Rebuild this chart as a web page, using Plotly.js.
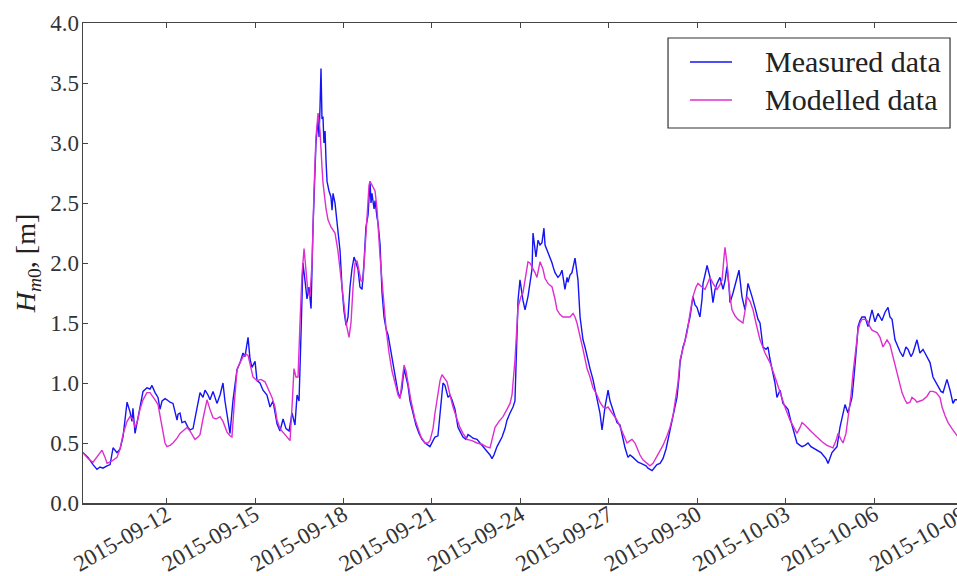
<!DOCTYPE html>
<html>
<head>
<meta charset="utf-8">
<script src="https://cdn.plot.ly/plotly-3.0.1.min.js"></script>
<style>
  html, body { margin: 0; padding: 0; overflow: hidden; background: #fff; }
  #chart { width: 982px; height: 576px; }
</style>
</head>
<body>
<div id="chart"></div>
<script>
// Significant wave height Hm0, measured vs. modelled, 2015-09-09 .. 2015-10-09.
// Times are hours after 2015-09-09 00:00 UTC.
const seriesNames = ["Measured data", "Modelled data"];
const seriesColors = ['#1414f5', '#dd2fd0'];

const measuredHours = [
  3.9, 8.0, 12.1, 15.3, 17.8, 20.2, 23.5, 26.0, 28.4, 31.6, 34.1, 36.5, 39.8, 42.2, 43.8, 44.6,
  46.3, 47.9, 50.3, 52.8, 56.0, 58.5, 60.1, 62.6, 65.0, 66.6, 68.3, 70.7, 72.3, 74.8, 77.2, 78.8,
  80.5, 81.3, 82.9, 84.5, 87.0, 89.4, 91.0, 93.5, 95.1, 96.7, 99.2, 101.6, 103.3, 105.7, 107.3, 109.8,
  111.4, 113.0, 115.5, 117.9, 119.5, 121.2, 123.6, 126.1, 129.3, 131.8, 134.2, 135.8, 138.3, 139.9,
  141.5, 144.0, 145.6, 148.0, 150.5, 153.7, 156.2, 158.6, 161.9, 164.3, 166.8, 169.2, 171.7, 174.1,
  176.5, 178.2, 179.8, 181.4, 183.0, 184.7, 186.3, 187.9, 189.6, 191.2, 193.6, 195.3, 196.1, 196.9,
  197.7, 198.5, 199.3, 200.1, 201.0, 201.8, 202.6, 204.2, 205.8, 206.7, 207.5, 209.1, 210.7, 211.5,
  213.2, 214.8, 216.4, 218.1, 219.7, 221.3, 222.9, 224.6, 226.2, 227.8, 229.4, 231.1, 232.7, 234.3,
  236.0, 236.8, 237.6, 238.4, 239.2, 240.9, 241.7, 243.3, 244.2, 245.8, 247.4, 249.0, 250.7, 252.3,
  253.9, 256.3, 258.8, 260.4, 262.0, 263.6, 265.3, 266.9, 268.5, 270.2, 272.6, 275.0, 277.5, 279.9,
  282.4, 284.8, 286.4, 288.9, 290.5, 292.9, 294.6, 297.0, 298.6, 301.1, 302.7, 304.3, 306.8, 309.2,
  311.7, 313.3, 315.7, 317.4, 319.0, 321.4, 324.7, 327.1, 329.6, 332.0, 333.7, 335.3, 336.9, 338.5,
  341.0, 343.4, 345.1, 347.5, 349.1, 351.6, 354.0, 355.6, 356.5, 358.1, 359.7, 361.3, 362.1, 363.8,
  365.4, 366.2, 367.8, 369.5, 370.3, 372.7, 374.4, 376.0, 377.6, 379.2, 380.1, 381.7, 384.1, 385.8,
  386.6, 388.2, 390.6, 392.3, 393.9, 395.5, 396.3, 398.0, 398.8, 400.4, 402.0, 404.5, 406.9, 408.6,
  411.0, 412.6, 414.3, 416.7, 419.1, 420.8, 423.2, 424.8, 426.5, 428.9, 431.4, 433.0, 434.6, 437.1,
  438.7, 441.1, 443.6, 445.2, 447.6, 449.3, 451.7, 454.1, 455.8, 458.2, 459.8, 462.3, 463.9, 465.5,
  467.2, 469.6, 471.2, 473.7, 476.1, 478.6, 480.2, 482.6, 484.3, 485.9, 487.5, 489.2, 490.0, 492.4,
  494.0, 495.7, 498.1, 500.5, 502.2, 503.8, 506.2, 507.9, 508.7, 510.3, 512.0, 514.4, 516.0, 516.8,
  518.5, 520.1, 522.5, 525.0, 526.6, 528.2, 529.9, 530.7, 533.1, 534.7, 536.4, 538.0, 540.4, 542.9,
  545.3, 547.0, 548.6, 551.0, 553.5, 555.1, 557.5, 560.0, 561.6, 563.2, 564.9, 567.3, 568.9, 571.4,
  573.8, 576.3, 577.9, 580.3, 582.0, 585.2, 587.7, 589.3, 591.7, 594.2, 596.6, 598.2, 600.7, 602.3,
  604.8, 606.4, 608.8, 610.5, 612.1, 613.7, 616.1, 617.8, 620.2, 622.7, 624.3, 626.7, 628.4, 630.0,
  631.6, 632.4, 634.1, 634.9, 636.5, 638.1, 640.6, 643.0, 644.6, 646.3, 648.7, 651.2, 652.8, 654.4,
  656.9, 659.3, 660.9, 662.6, 665.0, 667.4, 669.1, 671.5, 673.9, 675.6, 678.0, 679.6, 681.3, 682.9,
  685.3, 687.8, 689.4, 691.1, 693.5, 695.9, 698.4, 700.0, 702.4, 704.1, 707.3, 709.8, 712.2, 713.8,
  716.3
];
const measuredHm0 = [
  0.42, 0.38, 0.32, 0.28, 0.30, 0.29, 0.31, 0.32, 0.46, 0.42, 0.45, 0.55, 0.84, 0.76, 0.68, 0.79,
  0.58, 0.66, 0.78, 0.93, 0.96, 0.95, 0.98, 0.92, 0.88, 0.78, 0.85, 0.87, 0.86, 0.84, 0.83, 0.75,
  0.69, 0.74, 0.75, 0.67, 0.68, 0.63, 0.61, 0.62, 0.70, 0.80, 0.92, 0.88, 0.94, 0.90, 0.86, 0.93,
  0.87, 0.83, 0.90, 1.00, 0.85, 0.72, 0.58, 0.86, 1.11, 1.17, 1.25, 1.22, 1.38, 1.20,
  1.13, 1.18, 1.02, 1.00, 0.94, 0.90, 0.80, 0.85, 0.66, 0.60, 0.70, 0.62, 0.60, 0.75,
  0.65, 0.90, 0.85, 1.40, 2.00, 1.85, 1.70, 1.80, 1.62, 2.30, 3.00, 3.20, 3.05, 3.30,
  3.62, 3.20, 3.22, 3.00, 3.10, 2.85, 2.68, 2.60, 2.55, 2.44, 2.58, 2.50, 2.35, 2.27,
  2.10, 1.80, 1.60, 1.48, 1.55, 1.80, 1.95, 2.05, 2.00, 1.95, 1.80, 1.78, 2.00, 2.30,
  2.40, 2.60, 2.68, 2.50, 2.58, 2.45, 2.52, 2.38, 2.33, 2.15, 1.75, 1.55, 1.45, 1.40,
  1.30, 1.15, 1.00, 0.92, 0.88, 0.95, 1.12, 1.05, 0.98, 0.85, 0.75, 0.65, 0.58, 0.53,
  0.50, 0.48, 0.47, 0.52, 0.55, 0.56, 0.75, 1.00, 0.98, 0.88, 0.90, 0.86, 0.78, 0.63,
  0.58, 0.55, 0.53, 0.57, 0.56, 0.54, 0.53, 0.50, 0.47, 0.44, 0.42, 0.40, 0.37, 0.40,
  0.47, 0.52, 0.55, 0.62, 0.69, 0.75, 0.80, 0.85, 1.13, 1.69, 1.86, 1.72, 1.69, 1.61,
  1.68, 1.72, 1.83, 1.95, 2.25, 2.05, 2.19, 2.15, 2.17, 2.29, 2.15, 2.11, 2.05, 2.00,
  1.97, 1.92, 1.88, 1.90, 1.94, 1.85, 1.78, 1.88, 1.84, 1.90, 1.92, 2.04, 1.86, 1.55,
  1.36, 1.30, 1.22, 1.12, 1.03, 0.95, 0.82, 0.75, 0.61, 0.80, 0.94, 0.85, 0.80, 0.72,
  0.67, 0.65, 0.53, 0.46, 0.38, 0.40, 0.38, 0.36, 0.34, 0.33, 0.32, 0.31, 0.29, 0.28,
  0.27, 0.30, 0.32, 0.33, 0.37, 0.45, 0.53, 0.65, 0.75, 0.82, 0.88, 1.05, 1.17, 1.30,
  1.35, 1.44, 1.55, 1.72, 1.65, 1.63, 1.55, 1.70, 1.83, 1.90, 1.98, 1.88, 1.75, 1.67,
  1.78, 1.83, 1.88, 1.78, 1.85, 1.97, 1.80, 1.67, 1.75, 1.82, 1.88, 1.94, 1.72, 1.61,
  1.83, 1.78, 1.72, 1.63, 1.53, 1.50, 1.30, 1.28, 1.30, 1.20, 1.11, 1.00, 0.88, 0.94,
  0.83, 0.80, 0.78, 0.68, 0.61, 0.50, 0.48, 0.47, 0.48, 0.50, 0.47, 0.46, 0.45, 0.44,
  0.42, 0.40, 0.37, 0.33, 0.38, 0.42, 0.45, 0.47, 0.63, 0.75, 0.82, 0.75, 0.82, 0.88,
  1.05, 1.13, 1.35, 1.47, 1.52, 1.55, 1.55, 1.47, 1.55, 1.61, 1.51, 1.58, 1.55, 1.52,
  1.59, 1.63, 1.55, 1.53, 1.36, 1.30, 1.26, 1.22, 1.30, 1.28, 1.22, 1.25, 1.30, 1.36,
  1.25, 1.28, 1.25, 1.22, 1.17, 1.05, 1.00, 0.97, 0.93, 0.92, 1.03, 0.94, 0.83, 0.86,
  0.86
];

const modelledHours = [
  3.9, 8.0, 12.1, 15.3, 19.4, 21.9, 23.5, 27.6, 31.6, 34.1, 36.5, 39.8, 42.2, 44.6, 46.3, 48.7,
  50.3, 52.8, 56.0, 58.5, 60.1, 62.6, 65.0, 67.4, 69.1, 70.7, 72.3, 74.8, 77.2, 80.5, 82.9, 86.2,
  88.6, 91.0, 93.5, 95.1, 97.6, 99.2, 101.6, 103.3, 104.9, 107.3, 109.8, 112.2, 115.5, 117.9, 121.2,
  123.6, 125.2, 126.9, 129.3, 131.8, 134.2, 136.6, 138.3, 139.9, 142.3, 145.6, 148.8, 152.1, 154.5,
  157.8, 160.2, 161.9, 164.3, 167.6, 170.0, 172.5, 174.1, 175.7, 177.3, 179.0, 180.6, 182.2, 183.9,
  185.5, 187.1, 188.7, 190.4, 192.0, 193.6, 195.3, 196.9, 198.5, 199.3, 201.8, 203.4, 205.8, 209.1,
  211.5, 213.2, 215.6, 218.1, 220.5, 222.1, 223.8, 225.4, 227.0, 228.6, 230.3, 231.9, 233.5, 235.2,
  236.8, 237.6, 239.2, 241.7, 243.3, 244.2, 245.8, 248.2, 250.7, 253.1, 255.5, 258.0, 260.4, 262.0,
  263.6, 265.3, 266.9, 268.5, 271.0, 274.2, 276.7, 279.1, 282.4, 284.8, 286.4, 288.9, 290.5, 292.1,
  294.6, 296.2, 298.6, 300.3, 302.7, 305.2, 308.4, 310.8, 313.3, 316.6, 320.6, 324.7, 328.8, 332.0,
  335.3, 337.7, 339.4, 342.6, 345.9, 349.1, 351.6, 353.2, 355.6, 358.1, 360.5, 362.1, 364.6, 366.2,
  367.8, 369.5, 371.9, 373.5, 376.0, 378.4, 380.1, 382.5, 385.8, 388.2, 389.8, 392.3, 394.7, 398.0,
  400.4, 402.9, 404.5, 406.1, 408.6, 411.0, 414.3, 416.7, 419.1, 422.4, 424.8, 427.3, 429.7, 431.4,
  434.6, 438.7, 442.7, 446.8, 449.3, 450.9, 453.3, 455.0, 457.4, 459.8, 463.1, 465.5, 468.0, 469.6,
  473.7, 476.1, 479.4, 481.8, 484.3, 485.9, 488.3, 490.0, 493.2, 495.7, 498.1, 500.5, 503.0, 504.6,
  507.9, 510.3, 512.8, 514.4, 516.8, 520.1, 522.5, 524.2, 525.8, 526.6, 528.2, 529.1, 530.7, 532.3,
  534.7, 537.2, 541.2, 542.9, 544.5, 547.0, 549.4, 551.8, 553.5, 555.1, 559.2, 563.2, 567.3, 571.4,
  575.4, 579.5, 582.8, 585.2, 587.7, 589.3, 591.7, 593.4, 597.4, 601.5, 605.6, 609.6, 612.1, 614.5,
  617.0, 618.6, 621.0, 622.7, 625.1, 626.7, 629.2, 630.8, 633.3, 634.9, 636.5, 638.1, 640.6, 642.2,
  644.6, 646.3, 650.4, 652.8, 655.2, 658.5, 660.9, 662.6, 665.0, 666.6, 669.1, 670.7, 673.1, 674.8,
  677.2, 678.8, 681.3, 682.9, 685.3, 687.8, 691.1, 693.5, 695.9, 698.4, 701.6, 703.3, 705.7, 708.2,
  711.4, 713.8, 716.3
];
const modelledHm0 = [
  0.42, 0.37, 0.34, 0.38, 0.44, 0.38, 0.33, 0.35, 0.38, 0.45, 0.57, 0.68, 0.72, 0.70, 0.63, 0.70,
  0.78, 0.86, 0.92, 0.92, 0.90, 0.86, 0.82, 0.68, 0.58, 0.50, 0.47, 0.48, 0.50, 0.54, 0.58, 0.61,
  0.63, 0.60, 0.55, 0.53, 0.55, 0.57, 0.70, 0.80, 0.86, 0.78, 0.71, 0.70, 0.72, 0.68, 0.59,
  0.56, 0.55, 0.80, 1.11, 1.17, 1.22, 1.24, 1.23, 1.16, 1.05, 1.02, 1.03, 1.01, 0.95,
  0.88, 0.80, 0.69, 0.62, 0.58, 0.55, 0.52, 0.80, 1.12, 1.05, 1.05, 1.50, 1.90, 2.12,
  1.95, 1.75, 1.72, 2.00, 2.60, 3.05, 3.25, 3.10, 2.80, 2.67, 2.45, 2.36, 2.30, 2.25,
  2.10, 1.95, 1.75, 1.50, 1.38, 1.50, 1.80, 2.00, 2.02, 1.95, 1.85, 1.85, 2.10, 2.45,
  2.65, 2.68, 2.65, 2.60, 2.45, 2.27, 2.05, 1.75, 1.45, 1.25, 1.10, 1.00, 0.90, 0.87,
  1.00, 1.15, 1.10, 1.00, 0.85, 0.70, 0.62, 0.55, 0.50, 0.50, 0.52, 0.62, 0.75, 0.86,
  1.02, 1.07, 1.04, 1.01, 0.90, 0.80, 0.70, 0.63, 0.58, 0.53, 0.52, 0.50, 0.49, 0.47,
  0.46, 0.55, 0.63, 0.68, 0.72, 0.78, 0.83, 0.90, 1.19, 1.63, 1.72, 1.75, 1.90, 2.01,
  2.00, 1.97, 1.92, 1.88, 2.01, 1.95, 1.87, 1.83, 1.80, 1.70, 1.61, 1.57, 1.55, 1.55,
  1.55, 1.58, 1.55, 1.50, 1.40, 1.28, 1.12, 1.05, 0.96, 0.90, 0.84, 0.80, 0.79, 0.80,
  0.75, 0.69, 0.60, 0.50, 0.52, 0.53, 0.50, 0.46, 0.40, 0.36, 0.33, 0.31, 0.33, 0.36,
  0.43, 0.48, 0.56, 0.63, 0.73, 0.83, 1.00, 1.19, 1.32, 1.42, 1.58, 1.72, 1.80, 1.83,
  1.80, 1.78, 1.84, 1.88, 1.83, 1.78, 1.82, 1.86, 2.05, 2.13, 2.00, 1.88, 1.72, 1.61,
  1.56, 1.53, 1.50, 1.60, 1.72, 1.68, 1.61, 1.50, 1.42, 1.36, 1.25, 1.17, 1.05, 0.92,
  0.80, 0.69, 0.62, 0.58, 0.63, 0.67, 0.65, 0.63, 0.59, 0.55, 0.51, 0.48, 0.47, 0.46,
  0.52, 0.58, 0.53, 0.50, 0.58, 0.69, 0.90, 1.08, 1.30, 1.44, 1.50, 1.53, 1.53, 1.52,
  1.47, 1.44, 1.42, 1.38, 1.30, 1.36, 1.32, 1.25, 1.17, 1.11, 1.00, 0.92, 0.86, 0.83,
  0.84, 0.88, 0.86, 0.84, 0.85, 0.86, 0.89, 0.93, 0.93, 0.92, 0.88, 0.80, 0.73, 0.67,
  0.62, 0.58, 0.55
];

const yTickValues = [0, 0.5, 1, 1.5, 2, 2.5, 3, 3.5, 4];

const EPOCH = Date.UTC(2015, 8, 9, 0, 0, 0);
function hoursToStamp(h) {
  return new Date(EPOCH + h * 3600000).toISOString().slice(0, 19).replace('T', ' ');
}

const serif = 'Liberation Serif, DejaVu Serif, serif';
const axisColor = '#444444';

const traces = [
  {
    type: 'scatter', mode: 'lines', name: seriesNames[0],
    x: measuredHours.map(hoursToStamp), y: measuredHm0,
    line: { color: seriesColors[0], width: 1.4 }
  },
  {
    type: 'scatter', mode: 'lines', name: seriesNames[1],
    x: modelledHours.map(hoursToStamp), y: modelledHm0,
    line: { color: seriesColors[1], width: 1.4 }
  }
];

// Framed key in the upper right corner, placed in paper coordinates.
const key = { x0: 0.6522, x1: 0.9666, y0: 0.7813, y1: 0.9688,
              lineX0: 0.6767, lineX1: 0.7235, textX: 0.7581, rows: [0.9188, 0.8396] };
const shapes = [
  { type: 'rect', xref: 'paper', yref: 'paper', x0: key.x0, x1: key.x1, y0: key.y0, y1: key.y1,
    line: { color: '#333333', width: 1.2 }, fillcolor: '#ffffff', layer: 'above' }
];
const annotations = [];
seriesNames.forEach((name, i) => {
  shapes.push({ type: 'line', xref: 'paper', yref: 'paper',
    x0: key.lineX0, x1: key.lineX1, y0: key.rows[i], y1: key.rows[i],
    line: { color: seriesColors[i], width: 1.4 }, layer: 'above' });
  annotations.push({ xref: 'paper', yref: 'paper', x: key.textX, y: key.rows[i],
    xanchor: 'left', yanchor: 'middle', showarrow: false, text: name,
    font: { family: serif, size: 30, color: '#222222' } });
});

const layout = {
  width: 982, height: 576,
  margin: { l: 83, r: 2, t: 23, b: 73 },
  paper_bgcolor: '#ffffff', plot_bgcolor: '#ffffff',
  showlegend: false,
  shapes: shapes,
  annotations: annotations,
  xaxis: {
    type: 'date',
    range: ['2015-09-09 03:56', '2015-10-09 14:12'],
    tick0: '2015-09-12', dtick: 3 * 86400000,
    tickformat: '%Y-%m-%d', tickangle: -30,
    ticks: 'inside', ticklen: 5, tickwidth: 1, tickcolor: axisColor,
    ticklabelstandoff: -12,
    showline: true, linecolor: axisColor, linewidth: 1.5, mirror: 'ticks',
    showgrid: false, zeroline: false,
    tickfont: { family: serif, size: 23, color: '#333333' }
  },
  yaxis: {
    range: [0, 4],
    tickvals: yTickValues, tickformat: '.1f',
    ticks: 'inside', ticklen: 5, tickwidth: 1, tickcolor: axisColor,
    ticklabelstandoff: -2,
    showline: true, linecolor: axisColor, linewidth: 1.5, mirror: 'ticks',
    showgrid: false, zeroline: false,
    tickfont: { family: serif, size: 23, color: '#333333' },
    title: {
      text: '<i>H</i><sub><i>m</i>0</sub>, [m]',
      font: { family: serif, size: 28, color: '#222222' },
      standoff: 6
    }
  }
};

Plotly.newPlot('chart', traces, layout, { displayModeBar: false, staticPlot: true });
</script>
</body>
</html>
